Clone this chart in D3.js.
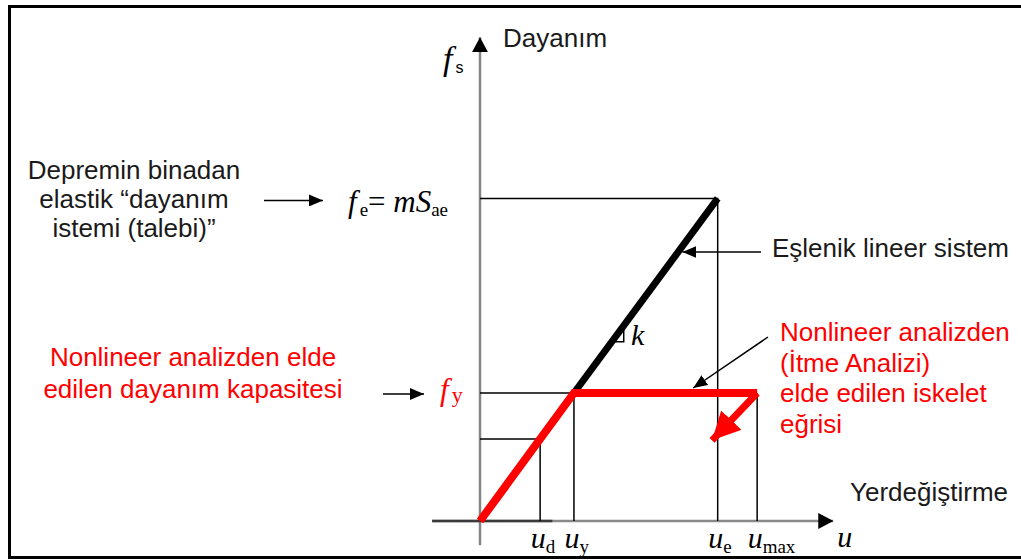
<!DOCTYPE html>
<html>
<head>
<meta charset="utf-8">
<script src="https://cdn.jsdelivr.net/npm/d3@7"></script>
<style>
  html, body { margin: 0; padding: 0; background: #fff; }
  svg { display: block; }
  .sans { font-family: "Liberation Sans", Arial, sans-serif; }
  .math { font-family: "Liberation Serif", "Times New Roman", serif; font-style: italic; }
  .sub { font-family: "Liberation Serif", "Times New Roman", serif; font-style: normal; }
</style>
</head>
<body>
<svg id="chart" width="1021" height="560"></svg>
<script>
// Displacement marks on the u axis (in units of the yield displacement u_y)
const uKeys = ["d", "y", "e", "max"];
const uValues = [0.64, 1, 2.53, 2.95];

// Strength levels on the f_s axis (in units of the yield strength f_y)
const fy = 1;
const fe = 2.52;

// Pushover (capacity) skeleton curve: elastic branch then plateau
const capacityU = [0, 1, 2.95];
const capacityF = [0, 1, 1];

// Equivalent linear system above yield
const elasticU = [1, 2.53];
const elasticF = [1, 2.52];

// Softening branch after u_max
const softU = [2.95, 2.47];
const softF = [1, 0.63];

const leftNote = ["Depremin binadan", "elastik “dayanım", "istemi (talebi)”"];
const capacityNote = ["Nonlineer analizden elde", "edilen dayanım kapasitesi"];
const curveNote = ["Nonlineer analizden", "(İtme Analizi)", "elde edilen iskelet", "eğrisi"];

const RED = "#ff0000";
const svg = d3.select("#chart");

const x = d3.scaleLinear().domain([0, 3.8]).range([480, 837]);
const y = d3.scaleLinear().domain([0, 3.8]).range([521, 34.6]);

// arrowhead markers
const defs = svg.append("defs");
function marker(id, w, h, color) {
  defs.append("marker")
    .attr("id", id).attr("viewBox", `0 0 ${w} ${h}`)
    .attr("refX", w).attr("refY", h / 2)
    .attr("markerWidth", w).attr("markerHeight", h)
    .attr("markerUnits", "userSpaceOnUse").attr("orient", "auto")
    .append("path").attr("d", `M0,0 L${w},${h / 2} L0,${h} Z`).attr("fill", color);
}
marker("headSmall", 14, 12, "#000");
marker("headAxis", 15, 16, "#000");
marker("headRed", 28, 28, RED);

// frame
svg.append("path")
  .attr("d", "M1030,6.5 L9.5,6.5 L9.5,557.5 L1030,557.5")
  .attr("fill", "none").attr("stroke", "#000").attr("stroke-width", 3);

// axes
svg.append("line")
  .attr("x1", x(0)).attr("x2", x(0)).attr("y1", y(-0.19)).attr("y2", y(3.78))
  .attr("stroke", "#858585").attr("stroke-width", 2.5)
  .attr("marker-end", "url(#headAxis)");
svg.append("line")
  .attr("x1", x(-0.51)).attr("x2", x(3.76)).attr("y1", y(0)).attr("y2", y(0))
  .attr("stroke", "#8a8a8a").attr("stroke-width", 2.5)
  .attr("marker-end", "url(#headAxis)");
svg.append("line")
  .attr("x1", x(-0.51)).attr("x2", x(0.77)).attr("y1", y(0)).attr("y2", y(0))
  .attr("stroke", "#3a3a3a").attr("stroke-width", 2.5);

// guide lines
const guides = svg.append("g").attr("stroke", "#000").attr("stroke-width", 1.5).attr("fill", "none");
const kStiff = fy / uValues[1];
const fd = kStiff * uValues[0];
guides.append("path").attr("d", `M${x(0)},${y(fe)} H${x(uValues[2])} V${y(0)}`);
guides.append("path").attr("d", `M${x(0)},${y(fy)} H${x(uValues[1])} V${y(0)}`);
guides.append("path").attr("d", `M${x(0)},${y(fd)} H${x(uValues[0])} V${y(0)}`);
guides.append("path").attr("d", `M${x(uValues[3])},${y(fy)} V${y(0)}`);

// right-angle mark for the stiffness k
const kU = 1.40;
const kx = x(kU), ky = y(kStiff * kU);
const kx2 = x(kU + 0.13), ky2 = y(kStiff * (kU + 0.13));
guides.append("path").attr("d", `M${kx2},${ky2} V${ky} H${kx}`);

const line = d3.line().x(d => x(d[0])).y(d => y(d[1]));

// equivalent linear system
svg.append("path")
  .datum(d3.zip(elasticU, elasticF))
  .attr("d", line).attr("fill", "none")
  .attr("stroke", "#000").attr("stroke-width", 7);

// capacity curve
svg.append("path")
  .datum(d3.zip(capacityU, capacityF))
  .attr("d", line).attr("fill", "none")
  .attr("stroke", RED).attr("stroke-width", 8)
  .attr("stroke-linejoin", "miter");
svg.append("path")
  .datum(d3.zip(softU, softF))
  .attr("d", line).attr("fill", "none")
  .attr("stroke", RED).attr("stroke-width", 7)
  .attr("marker-end", "url(#headRed)");

// pointer arrows
const pointers = svg.append("g").attr("stroke", "#000").attr("stroke-width", 1.5);
function pointer(x1, y1, x2, y2) {
  pointers.append("line").attr("x1", x1).attr("y1", y1).attr("x2", x2).attr("y2", y2)
    .attr("marker-end", "url(#headSmall)");
}
pointer(264, y(fe) + 2, 323, y(fe) + 2);
pointer(383, y(fy) + 1, 424, y(fy) + 1);
pointer(761, 252, x(1 + (y.invert(252) - 1) / kStiff) + 5, 252);
pointer(768, 337, x(2.27), y(fy) - 5);

// x-axis labels u_d, u_y, u_e, u_max
const xAxis = d3.axisBottom(x).tickValues(uValues).tickSize(0).tickFormat("");
const axG = svg.append("g").attr("transform", `translate(0,${y(0)})`).call(xAxis);
axG.select(".domain").remove();
axG.selectAll(".tick").each(function (d, i) {
  const t = d3.select(this).append("text")
    .attr("y", 27).attr("fill", "#000").attr("text-anchor", "start")
    .attr("x", -10);
  t.append("tspan").attr("class", "math").attr("font-size", 30).text("u");
  t.append("tspan").attr("class", "sub").attr("font-size", 19).attr("dy", 5).text(uKeys[i]);
});
svg.append("text").attr("class", "math").attr("font-size", 30)
  .attr("x", x(3.77) + 3).attr("y", y(0) + 26).text("u");

// f_s axis label
const fsT = svg.append("text").attr("x", 443).attr("y", 70);
fsT.append("tspan").attr("class", "math").attr("font-size", 34).text("f");
fsT.append("tspan").attr("class", "sans").attr("font-size", 16).attr("dx", 3).attr("dy", 3).text("s");

// f_e = m S_ae
const feT = svg.append("text").attr("y", y(fe) + 14).attr("x", 348);
feT.append("tspan").attr("class", "math").attr("font-size", 31).text("f");
feT.append("tspan").attr("class", "sub").attr("font-size", 19).attr("dx", 3).attr("dy", 4).text("e");
feT.append("tspan").attr("class", "sub").attr("font-size", 31).attr("dy", -4).text("= ");
feT.append("tspan").attr("class", "math").attr("font-size", 31).text("mS");
feT.append("tspan").attr("class", "sub").attr("font-size", 19).attr("dy", 4).text("ae");

// f_y
const fyT = svg.append("text").attr("y", y(fy) + 7).attr("x", 440).attr("fill", RED);
fyT.append("tspan").attr("class", "math").attr("font-size", 31).text("f");
fyT.append("tspan").attr("class", "sub").attr("font-size", 22).attr("dx", 3).attr("dy", 2).text("y");

// k
svg.append("text").attr("class", "math").attr("font-size", 30)
  .attr("x", 631).attr("y", 345).text("k");

// axis titles
svg.append("text").attr("class", "sans").attr("font-size", 26)
  .attr("x", 503).attr("y", 47).attr("fill", "#1a1a1a").text("Dayanım");
svg.append("text").attr("class", "sans").attr("font-size", 26)
  .attr("x", 850).attr("y", 501).attr("fill", "#1a1a1a").text("Yerdeğiştirme");

// annotations
function block(lines, x0, y0, dy, anchor, color) {
  const g = svg.append("g");
  lines.forEach((s, i) => {
    g.append("text").attr("class", "sans").attr("font-size", 26)
      .attr("x", x0).attr("y", y0 + i * dy).attr("text-anchor", anchor)
      .attr("fill", color).text(s);
  });
}
block(leftNote, 134, 179, 29, "middle", "#1a1a1a");
block(capacityNote, 193, 366, 32, "middle", RED);
block(["Eşlenik lineer sistem"], 772, 257, 0, "start", "#1a1a1a");
block(curveNote, 780, 341, 30.5, "start", RED);
</script>
</body>
</html>
